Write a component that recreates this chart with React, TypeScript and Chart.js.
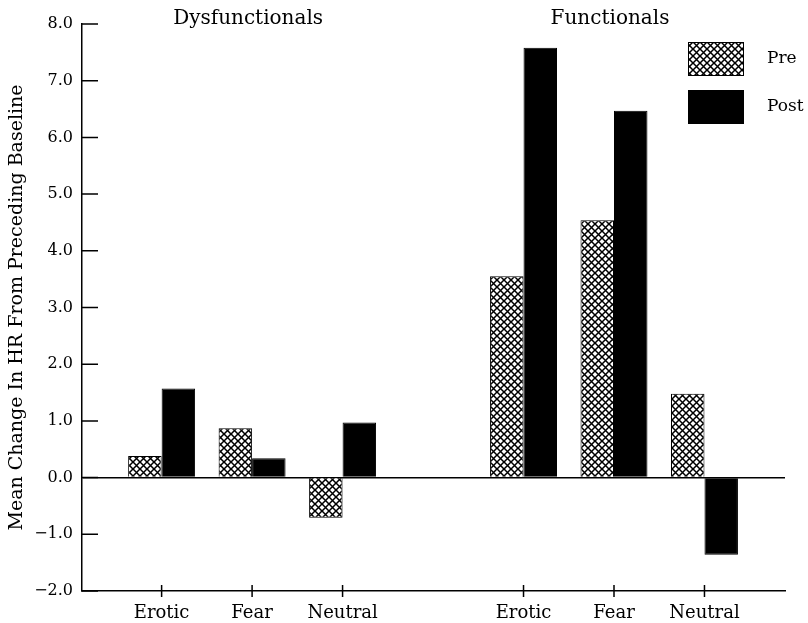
import React, { useEffect, useRef } from "react";
import { Chart, registerables } from "chart.js";

Chart.register(...registerables);

// ---- data ----
const groups = ["Dysfunctionals", "Functionals"];
const conditions = ["Erotic", "Fear", "Neutral"];
const seriesNames = ["Pre", "Post"];
const preValues = [0.38, 0.87, -0.71, 3.55, 4.54, 1.48];
const postValues = [1.57, 0.34, 0.97, 7.58, 6.47, -1.36];
const yTicks = [-2, -1, 0, 1, 2, 3, 4, 5, 6, 7, 8];
const yTitle = "Mean Change In HR From Preceding Baseline";

// slot labels: each group's conditions, an empty slot between groups
const slotLabels: string[] = [];
groups.forEach((g, gi) => {
  if (gi > 0) slotLabels.push("");
  conditions.forEach((c) => slotLabels.push(c));
});
const slotOf = (k: number) =>
  Math.floor(k / conditions.length) * (conditions.length + 1) + (k % conditions.length);

const FONT = "'DejaVu Serif', 'Liberation Serif', serif";

function makeHatch(): CanvasPattern | string {
  const s = 7;
  const c = document.createElement("canvas");
  c.width = s;
  c.height = s;
  const g = c.getContext("2d");
  if (!g) return "#fff";
  g.fillStyle = "#fff";
  g.fillRect(0, 0, s, s);
  g.strokeStyle = "#000";
  g.lineWidth = 1.5;
  g.beginPath();
  g.moveTo(-1, -1);
  g.lineTo(s + 1, s + 1);
  g.moveTo(s + 1, -1);
  g.lineTo(-1, s + 1);
  g.stroke();
  const p = g.createPattern(c, "repeat");
  return p || "#fff";
}

const fmt = (v: number) => (v < 0 ? "\u2212" + Math.abs(v).toFixed(1) : v.toFixed(1));

export default function App() {
  const ref = useRef<HTMLCanvasElement | null>(null);

  useEffect(() => {
    if (!ref.current) return;
    const hatch = makeHatch();

    const tickMarks = {
      id: "tickMarks",
      afterDraw(chart: any) {
        const { ctx } = chart;
        const xs = chart.scales.x;
        const ys = chart.scales.y;
        ctx.save();
        ctx.strokeStyle = "#000";
        ctx.lineWidth = 1.5;
        ctx.beginPath();
        ys.ticks.forEach((t: any) => {
          const py = ys.getPixelForValue(t.value);
          ctx.moveTo(ys.right, py);
          ctx.lineTo(ys.right + 16, py);
        });
        xs.ticks.forEach((t: any) => {
          const px = xs.getPixelForValue(t.value);
          ctx.moveTo(px, xs.top - 6);
          ctx.lineTo(px, xs.top + 6);
        });
        ctx.stroke();
        ctx.restore();
      },
    };

    const groupTitles = {
      id: "groupTitles",
      afterDraw(chart: any) {
        const { ctx } = chart;
        const xs = chart.scales.x;
        ctx.save();
        ctx.fillStyle = "#000";
        ctx.font = `20px ${FONT}`;
        ctx.textAlign = "center";
        ctx.textBaseline = "middle";
        groups.forEach((g, gi) => {
          const first = gi * (conditions.length + 1);
          const last = first + conditions.length - 1;
          const cx = (xs.getPixelForValue(first) + xs.getPixelForValue(last)) / 2;
          ctx.fillText(g, cx - 4, 19);
        });
        ctx.restore();
      },
    };

    const boxLegend = {
      id: "boxLegend",
      afterDraw(chart: any) {
        const { ctx, chartArea } = chart;
        ctx.save();
        chart.data.datasets.forEach((ds: any, i: number) => {
          const bx = chartArea.right - 97;
          const by = chartArea.top + 18 + i * 48;
          const bw = 56;
          const bh = 34;
          ctx.fillStyle = ds.backgroundColor;
          ctx.fillRect(bx, by, bw, bh);
          ctx.strokeStyle = "#000";
          ctx.lineWidth = 1;
          ctx.strokeRect(bx + 0.5, by + 0.5, bw - 1, bh - 1);
          ctx.fillStyle = "#000";
          ctx.font = `17px ${FONT}`;
          ctx.textAlign = "left";
          ctx.textBaseline = "middle";
          ctx.fillText(ds.label, bx + 79, by + bh / 2);
        });
        ctx.restore();
      },
    };

    const chart = new Chart(ref.current, {
      type: "bar",
      data: {
        datasets: [
          {
            label: seriesNames[0],
            data: preValues.map((v, k) => ({ x: slotOf(k), y: v })),
            backgroundColor: hatch as any,
            borderColor: "#000",
            borderWidth: 1,
          },
          {
            label: seriesNames[1],
            data: postValues.map((v, k) => ({ x: slotOf(k), y: v })),
            backgroundColor: "#000",
            borderColor: "#000",
            borderWidth: 1,
          },
        ],
      },
      options: {
        responsive: false,
        animation: false,
        categoryPercentage: 0.74,
        barPercentage: 1.0,
        layout: { padding: { top: 24, right: 23, left: 0, bottom: 0 } },
        plugins: {
          legend: { display: false },
          tooltip: { enabled: false },
        },
        scales: {
          x: {
            type: "linear",
            offset: false,
            min: -0.88,
            max: slotLabels.length - 1 + 0.89,
            afterBuildTicks: (scale: any) => {
              scale.ticks = slotLabels
                .map((l, i) => ({ value: i, label: l }))
                .filter((t) => t.label !== "");
            },
            ticks: {
              autoSkip: false,
              maxRotation: 0,
              callback: (v: any) => slotLabels[v] ?? "",
              padding: 12,
              color: "#000",
              font: { family: FONT, size: 18 },
            },
            grid: { display: false, drawTicks: false, offset: false },
            border: { display: true, color: "#000", width: 1.5 },
            afterFit: (s: any) => {
              s.height = 32;
            },
          },
          y: {
            type: "linear",
            min: yTicks[0],
            max: yTicks[yTicks.length - 1],
            afterBuildTicks: (scale: any) => {
              scale.ticks = yTicks.map((v) => ({ value: v }));
            },
            ticks: {
              callback: (v: any) => fmt(Number(v)),
              padding: 9,
              color: "#000",
              font: { family: FONT, size: 16 },
            },
            grid: {
              drawTicks: false,
              lineWidth: 1.5,
              color: (c: any) => (c.tick && c.tick.value === 0 ? "#000" : "rgba(0,0,0,0)"),
            },
            border: { display: true, color: "#000", width: 1.5 },
            title: {
              display: true,
              text: yTitle,
              color: "#000",
              font: { family: FONT, size: 19 },
              padding: { top: 6, bottom: 0 },
            },
            afterFit: (s: any) => {
              s.width = 82;
            },
          },
        },
      },
      plugins: [tickMarks, groupTitles, boxLegend],
    } as any);

    return () => chart.destroy();
  }, []);

  return (
    <div style={{ position: "fixed", left: 0, top: 0, width: 808, height: 623, background: "#fff" }}>
      <canvas ref={ref} width={808} height={623} style={{ display: "block" }} />
    </div>
  );
}
